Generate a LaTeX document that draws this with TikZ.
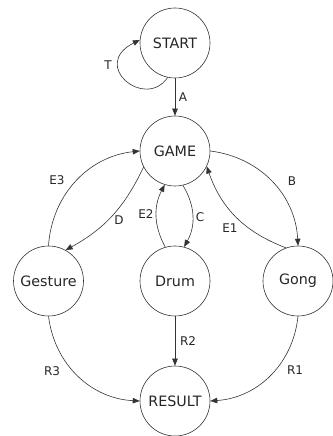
\documentclass[tikz,border=0pt]{standalone}
\usepackage{fontspec}
\setmainfont{DejaVu Sans}
\usetikzlibrary{arrows.meta}
\begin{document}
\begin{tikzpicture}[x=1pt,y=1pt,
  state/.style={circle,draw=black!80,line width=0.6pt,minimum size=70pt,inner sep=0pt,
    text=black!85,font=\fontsize{14.3}{16}\selectfont},
  trans/.style={draw=black!80,line width=0.6pt,-{Triangle[length=7pt,width=5.5pt]}},
  lbl/.style={text=black!85,font=\fontsize{12}{14}\selectfont,inner sep=0pt}]
\useasboundingbox (0,0) rectangle (332,436);

% states
\node[state] (start)   at (175,393) {START};
\node[state] (game)    at (175,285) {GAME};
\node[state] (gesture) at (48.5,155) {Gesture};
\node[state] (drum)    at (175,155) {Drum};
\node[state] (gong)    at (298,155) {Gong};
\node[state] (result)  at (175,35)  {RESULT};

% transitions
\draw[trans] (start.258) .. controls +(-23,-33) and +(-50,-25) .. (start.175);
\draw[trans] (start) -- (game);
\draw[trans] (game.0) to[bend left=40] (gong.90);
\draw[trans] (gong.110) to[bend left=25] (game.-26);
\draw[trans] (gesture.90) to[bend left=40] (game.180);
\draw[trans] (game.207) to[bend left=18] (gesture.61);
\draw[trans] (drum.106) to[bend left=28] (game.253);
\draw[trans] (game.-77) to[bend left=30] (drum.75);
\draw[trans] (gesture.270) to[bend right=40] (result.180);
\draw[trans] (drum) -- (result);
\draw[trans] (gong.270) to[bend left=40] (result.0);

% transition labels
\node[lbl] (lT)  at (108,371) {T};
\node[lbl] (lA)  at (183,339) {A};
\node[lbl] (lB)  at (292,255) {B};
\node[lbl] (lE1) at (230,208) {E1};
\node[lbl] (lE3) at (57,256)  {E3};
\node[lbl] (lD)  at (119,216) {D};
\node[lbl] (lE2) at (146,222) {E2};
\node[lbl] (lC)  at (200,219) {C};
\node[lbl] (lR3) at (52,65)   {R3};
\node[lbl] (lR2) at (188,95)  {R2};
\node[lbl] (lR1) at (295,66)  {R1};
\end{tikzpicture}
\end{document}
